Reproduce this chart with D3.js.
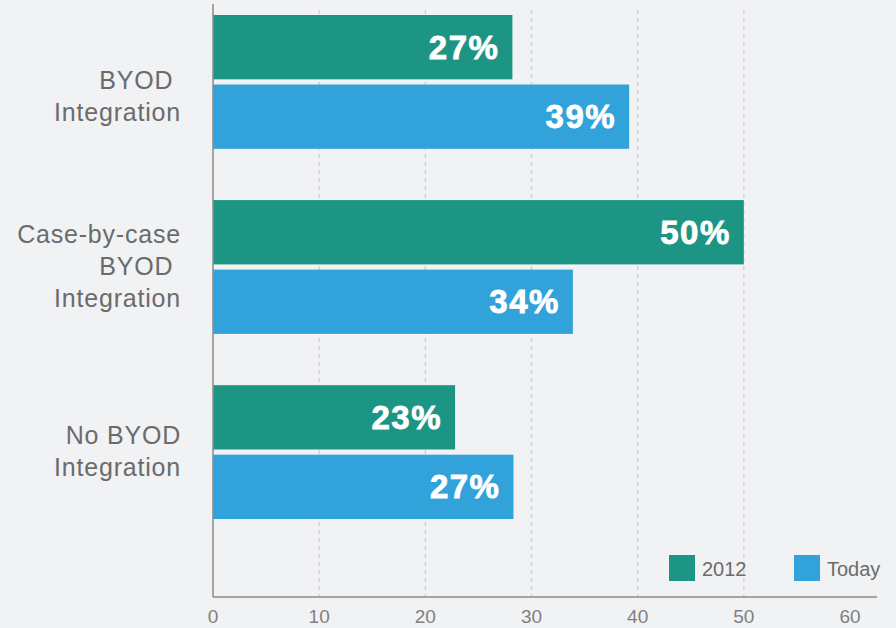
<!DOCTYPE html>
<html>
<head>
<meta charset="utf-8">
<script src="https://cdn.jsdelivr.net/npm/d3@7"></script>
<style>
  body { margin: 0; background: #f1f2f4; }
  svg { display: block; font-family: "Liberation Sans", Arial, Helvetica, sans-serif; }
</style>
</head>
<body>
<div id="chart"></div>
<script>
// chart data
var categories = ["BYOD Integration", "Case-by-case BYOD Integration", "No BYOD Integration"];
// label lines as drawn in the original (first one has a blank line on top)
var categoryLines = [["", "BYOD ", "Integration"], ["Case-by-case", "BYOD ", "Integration"], ["No BYOD", "Integration"]];
var seriesNames = ["2012", "Today"];
var values2012 = [28.2, 50, 22.8];
var valuesToday = [39.2, 33.9, 28.3];
var labels2012 = ["27%", "50%", "23%"];
var labelsToday = ["39%", "34%", "27%"];
var xTicks = [0, 10, 20, 30, 40, 50, 60];
var gridTicks = [10, 20, 30, 40, 50];

var width = 896,
  height = 628;

var colors = { "2012": "#1d9585", "Today": "#31a3da" };

var svg = d3.select("#chart").append("svg")
  .attr("width", width)
  .attr("height", height);

svg.append("rect")
  .attr("width", width)
  .attr("height", height)
  .attr("fill", "#f1f2f4");

var x = d3.scaleLinear()
  .domain([0, 60])
  .range([213, 850]);

var y = d3.scaleBand()
  .domain(categories)
  .range([15, 519])
  .paddingInner(0.277)
  .paddingOuter(0);

var ySub = d3.scaleBand()
  .domain(seriesNames)
  .range([0, y.bandwidth()])
  .paddingInner(0.075);

var axisY = 597;

// dashed gridlines
svg.append("g")
  .selectAll("line")
  .data(gridTicks)
  .enter()
  .append("line")
  .attr("x1", d => x(d))
  .attr("x2", d => x(d))
  .attr("y1", 10)
  .attr("y2", axisY)
  .attr("stroke", "#cfd0d3")
  .attr("stroke-width", 1.3)
  .attr("stroke-dasharray", "4,4");

// build rows for the bars
var rows = [];
categories.forEach(function (c, i) {
  rows.push({ cat: c, series: "2012", value: values2012[i], label: labels2012[i] });
  rows.push({ cat: c, series: "Today", value: valuesToday[i], label: labelsToday[i] });
});

var bars = svg.append("g")
  .selectAll("g")
  .data(rows)
  .enter()
  .append("g")
  .attr("transform", d => "translate(0," + (y(d.cat) + ySub(d.series)) + ")");

bars.append("rect")
  .attr("x", x(0))
  .attr("y", 0)
  .attr("width", d => x(d.value) - x(0))
  .attr("height", ySub.bandwidth())
  .attr("fill", d => colors[d.series]);

bars.append("text")
  .attr("x", d => x(d.value) - 13)
  .attr("y", ySub.bandwidth() / 2 + 11.5)
  .attr("text-anchor", "end")
  .attr("fill", "white")
  .attr("stroke", "white")
  .attr("stroke-width", 0.8)
  .attr("font-weight", "bold")
  .attr("font-size", "33px")
  .attr("letter-spacing", "1.5px")
  .text(d => d.label);

// category labels
var lineH = 32;
svg.append("g")
  .selectAll("text")
  .data(categories)
  .enter()
  .append("text")
  .attr("text-anchor", "end")
  .attr("fill", "#6b6b6b")
  .attr("font-size", "25px")
  .attr("letter-spacing", "0.8px")
  .each(function (d, i) {
    var lines = categoryLines[i];
    var cy = y(d) + y.bandwidth() / 2;
    var first = cy + 7.5 - (lines.length - 1) / 2 * lineH;
    var t = d3.select(this);
    lines.forEach(function (ln, j) {
      t.append("tspan")
        .attr("x", 181)
        .attr("y", first + j * lineH)
        .style("white-space", "pre")
        .text(ln);
    });
  });

// axes lines
svg.append("line")
  .attr("x1", x(0)).attr("x2", x(0))
  .attr("y1", 4).attr("y2", axisY)
  .attr("stroke", "#8a8a8a")
  .attr("stroke-width", 1.5);

svg.append("line")
  .attr("x1", x(0)).attr("x2", 877)
  .attr("y1", axisY).attr("y2", axisY)
  .attr("stroke", "#8a8a8a")
  .attr("stroke-width", 1.5);

// x tick labels
svg.append("g")
  .selectAll("text")
  .data(xTicks)
  .enter()
  .append("text")
  .attr("x", d => x(d))
  .attr("y", 623)
  .attr("text-anchor", "middle")
  .attr("fill", "#808080")
  .attr("font-size", "19px")
  .text(d => d);

// legend
var legendX = [669, 794];
var legend = svg.append("g")
  .selectAll("g")
  .data(seriesNames)
  .enter()
  .append("g")
  .attr("transform", (d, i) => "translate(" + legendX[i] + ",555)");

legend.append("rect")
  .attr("width", 26)
  .attr("height", 26)
  .attr("fill", d => colors[d]);

legend.append("text")
  .attr("x", 33)
  .attr("y", 21)
  .attr("fill", "#6b6b6b")
  .attr("font-size", "20px")
  .text(d => d);
</script>
</body>
</html>
